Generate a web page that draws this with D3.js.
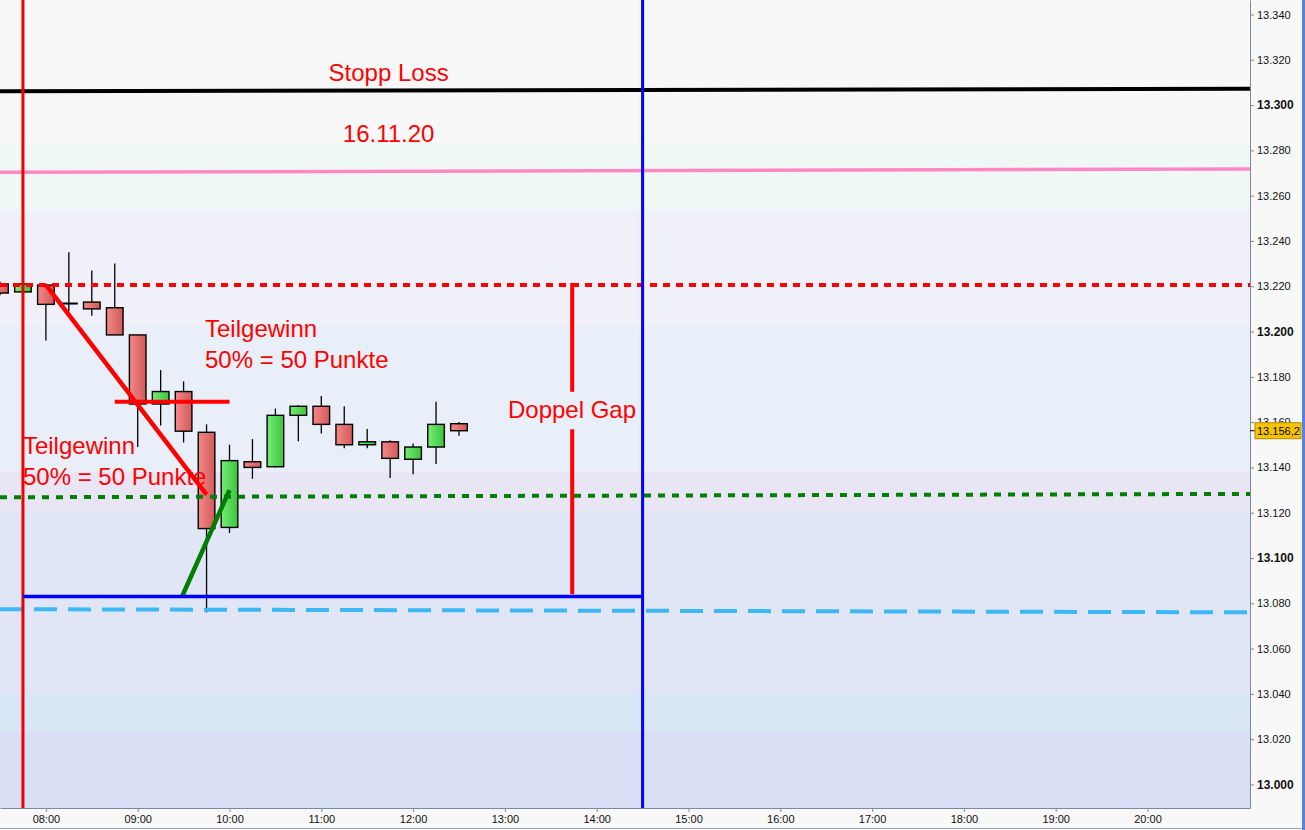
<!DOCTYPE html>
<html>
<head>
<meta charset="utf-8">
<script src="https://cdn.jsdelivr.net/npm/d3@7"></script>
<style>
  body { margin: 0; background: #f8f8f8; }
  svg { display: block; font-family: "Liberation Sans", Arial, sans-serif; }
  .axis path, .axis line { stroke: #7b8b9b; }
  .axis text { fill: #111; font-size: 11px; font-family: "Liberation Sans", Arial, sans-serif; }
  .note { fill: #ff0000; font-size: 24px; }
</style>
</head>
<body>
<svg id="chart" width="1305" height="830"></svg>
<script>
// 15 minute candles, 16.11.2020
const candleTimes = ["07:30", "07:45", "08:00", "08:15", "08:30", "08:45", "09:00", "09:15", "09:30", "09:45",
  "10:00", "10:15", "10:30", "10:45", "11:00", "11:15", "11:30", "11:45", "12:00", "12:15", "12:30"];
const opens  = [13221, 13217.5, 13220.5, 13212.5, 13213, 13210.5, 13198.5, 13168, 13173.5, 13155.5,
  13113.5, 13142.5, 13140.3, 13163, 13167, 13159, 13150, 13151.3, 13143.6, 13149, 13159.3];
const highs  = [13222, 13222, 13221, 13235, 13227, 13230, 13198.5, 13183, 13178, 13159,
  13150, 13152.5, 13166, 13167.5, 13171.5, 13167, 13157, 13152, 13150.6, 13169, 13160];
const lows   = [13216, 13217, 13196, 13209, 13207, 13198.5, 13149, 13158.5, 13151, 13076,
  13111, 13135, 13140, 13151.5, 13155, 13148.5, 13148.5, 13135.3, 13137, 13141.5, 13154];
const closes = [13217, 13221, 13212, 13212.5, 13210, 13198.5, 13168, 13173.5, 13156, 13113,
  13143, 13140, 13163, 13167, 13159, 13150, 13151.3, 13144, 13149, 13159, 13156.2];
const lastPrice = 13156.2;

// background zones: price edges from top to bottom
const zoneEdges = [13283, 13253.8, 13202.6, 13138.2, 13120.6, 13040.3, 13023.1];
const zoneColors = ["#f8f8f8", "#f0f8f6", "#f0f0f8", "#e8eff8", "#e8e6f5", "#e0e6f5", "#d8e6f5", "#d8dff5"];

// horizontal levels across the chart: price at the left edge, price at the right edge
const levelNames = ["stopp", "pink", "redDot", "greenDot", "cyanDash"];
const levelStart = [13306.1, 13270.3, 13220.5, 13126.8, 13077.4];
const levelEnd   = [13307.2, 13271.8, 13220.5, 13128.3, 13076.0];

// drawn trend segments
const segNames  = ["fall", "target", "rebound", "gapLow"];
const segTimes  = [["08:00", "09:45"], ["08:45", "10:00"], ["09:29", "10:00"], ["07:45", "14:30"]];
const segPrices = [[13220.6, 13128], [13169, 13169], [13083, 13130], [13083, 13083]];

// vertical session markers
const markerTimes = ["07:45", "14:30"];

// "Doppel Gap" span (broken around its label)
const gapTime = "13:44";
const gapParts = [[13221.5, 13173.4], [13156.8, 13084]];

// texts
const noteTexts  = ["Stopp Loss", "16.11.20", "Teilgewinn", "50% = 50 Punkte", "Teilgewinn", "50% = 50 Punkte", "Doppel Gap"];
const noteTimes  = ["11:44", "11:44", "09:44", "09:44", "07:45", "07:45", "13:02"];
const notePrices = [13310.7, 13283.7, 13197.6, 13183.9, 13145.9, 13132.3, 13161.9];
const noteAnchor = ["middle", "middle", "start", "start", "start", "start", "start"];

const hourTicks = ["08:00", "09:00", "10:00", "11:00", "12:00", "13:00", "14:00", "15:00", "16:00", "17:00", "18:00", "19:00", "20:00"];
const priceTicks = d3.range(13000, 13341, 20);

const parseT = s => {
  const [h, m] = s.split(":").map(Number);
  return new Date(2020, 10, 16, h, m);
};

const W = 1250, H = 808;
const svg = d3.select("#chart");
const x = d3.scaleTime().domain([parseT("07:30"), parseT("21:07")]).range([0, W]);
const y = d3.scaleLinear().domain([12989.6, 13346.4]).range([H, 0]);
const de = d3.formatLocale({decimal: ",", thousands: ".", grouping: [3], currency: ["", ""]});

const defs = svg.append("defs");
defs.append("clipPath").attr("id", "plot").append("rect").attr("width", W).attr("height", H);
function grad(id, a, b) {
  const g = defs.append("linearGradient").attr("id", id).attr("x1", 0).attr("x2", 1).attr("y1", 0).attr("y2", 0);
  g.append("stop").attr("offset", "0%").attr("stop-color", a);
  g.append("stop").attr("offset", "100%").attr("stop-color", b);
}
grad("gUp", "#76ec76", "#3cc43c");
grad("gDown", "#f48888", "#d25a5a");

const plot = svg.append("g").attr("clip-path", "url(#plot)");

// zones
const edges = [y.domain()[1], ...zoneEdges, y.domain()[0]];
plot.append("g").selectAll("rect")
  .data(zoneColors)
  .join("rect")
    .attr("x", 0)
    .attr("width", W)
    .attr("y", (d, i) => y(edges[i]))
    .attr("height", (d, i) => y(edges[i + 1]) - y(edges[i]))
    .attr("fill", d => d);

// candles
const candles = candleTimes.map((t, i) => ({t: parseT(t), o: opens[i], h: highs[i], l: lows[i], c: closes[i]}));
const cg = plot.append("g");
cg.selectAll("line")
  .data(candles)
  .join("line")
    .attr("x1", d => x(d.t)).attr("x2", d => x(d.t))
    .attr("y1", d => y(d.h)).attr("y2", d => y(d.l))
    .attr("stroke", "#000").attr("stroke-width", 1.3);
cg.selectAll("rect")
  .data(candles)
  .join("rect")
    .attr("x", d => x(d.t) - 8.3)
    .attr("width", 16.6)
    .attr("y", d => y(Math.max(d.o, d.c)))
    .attr("height", d => Math.max(Math.abs(y(d.o) - y(d.c)), 0.6))
    .attr("fill", d => d.c >= d.o ? "url(#gUp)" : "url(#gDown)")
    .attr("stroke", "#000").attr("stroke-width", 1.4);

// levels
const levelStyle = {
  stopp:    {color: "#000000", width: 4, dash: null},
  pink:     {color: "#ff88c4", width: 3.5, dash: null},
  redDot:   {color: "#ff0000", width: 4, dash: "7,6"},
  greenDot: {color: "#007f00", width: 4, dash: "7,7"},
  cyanDash: {color: "#3cb8f4", width: 4, dash: "23,11"}
};
plot.append("g").selectAll("line")
  .data(levelNames)
  .join("line")
    .attr("x1", x.range()[0]).attr("x2", x.range()[1])
    .attr("y1", (d, i) => y(levelStart[i]))
    .attr("y2", (d, i) => y(levelEnd[i]))
    .attr("stroke", d => levelStyle[d].color)
    .attr("stroke-width", d => levelStyle[d].width)
    .attr("stroke-dasharray", d => levelStyle[d].dash);

// vertical markers
plot.append("g").selectAll("line")
  .data(markerTimes)
  .join("line")
    .attr("x1", d => x(parseT(d))).attr("x2", d => x(parseT(d)))
    .attr("y1", 0).attr("y2", H)
    .attr("stroke", (d, i) => i === 0 ? "#f00000" : "#0000ff")
    .attr("stroke-width", 3);

// segments
const segStyle = {
  fall:    {color: "#ff0000", width: 4.5},
  target:  {color: "#ff0000", width: 4},
  rebound: {color: "#008000", width: 4.5},
  gapLow:  {color: "#0000ff", width: 3.5}
};
plot.append("g").selectAll("line")
  .data(segNames)
  .join("line")
    .attr("x1", (d, i) => x(parseT(segTimes[i][0])))
    .attr("x2", (d, i) => x(parseT(segTimes[i][1])))
    .attr("y1", (d, i) => y(segPrices[i][0]))
    .attr("y2", (d, i) => y(segPrices[i][1]))
    .attr("stroke", d => segStyle[d].color)
    .attr("stroke-width", d => segStyle[d].width);

plot.append("g").selectAll("line")
  .data(gapParts)
  .join("line")
    .attr("x1", x(parseT(gapTime))).attr("x2", x(parseT(gapTime)))
    .attr("y1", d => y(d[0])).attr("y2", d => y(d[1]))
    .attr("stroke", "#ff0000").attr("stroke-width", 4);

// texts
svg.append("g").selectAll("text")
  .data(noteTexts)
  .join("text")
    .attr("class", "note")
    .attr("x", (d, i) => x(parseT(noteTimes[i])))
    .attr("y", (d, i) => y(notePrices[i]))
    .attr("text-anchor", (d, i) => noteAnchor[i])
    .text(d => d);

// axes
const yAxis = svg.append("g")
  .attr("class", "axis")
  .attr("transform", `translate(${W},0)`)
  .call(d3.axisRight(y).tickValues(priceTicks).tickSize(4).tickSizeOuter(0).tickPadding(3)
    .tickFormat(de.format(",.0f")));
yAxis.selectAll(".tick text")
  .filter(d => d % 100 === 0)
  .style("font-weight", "bold")
  .style("font-size", "12px");

svg.append("g")
  .attr("class", "axis")
  .attr("transform", `translate(0,${H})`)
  .call(d3.axisBottom(x).tickValues(hourTicks.map(parseT)).tickSize(4).tickSizeOuter(0).tickPadding(3)
    .tickFormat(d3.timeFormat("%H:%M")));

svg.append("line")
  .attr("x1", 0).attr("x2", 1302).attr("y1", 828.5).attr("y2", 828.5)
  .attr("stroke", "#98a4b0");
svg.append("rect")
  .attr("x", 1302).attr("y", 0).attr("width", 3).attr("height", 830)
  .attr("fill", "#5a84dc");

// last price tag
const tag = svg.append("g").attr("transform", `translate(${W},${y(lastPrice)})`);
tag.append("line").attr("x1", 0).attr("x2", 5).attr("stroke", "#000");
tag.append("rect")
  .attr("x", 5).attr("y", -8).attr("width", 46).attr("height", 16)
  .attr("fill", "#f8c400").attr("stroke", "#b08a00");
tag.append("text")
  .attr("x", 7).attr("dy", "0.35em")
  .style("font-size", "11px")
  .attr("fill", "#000")
  .text(de.format(",.1f")(lastPrice));
</script>
</body>
</html>
